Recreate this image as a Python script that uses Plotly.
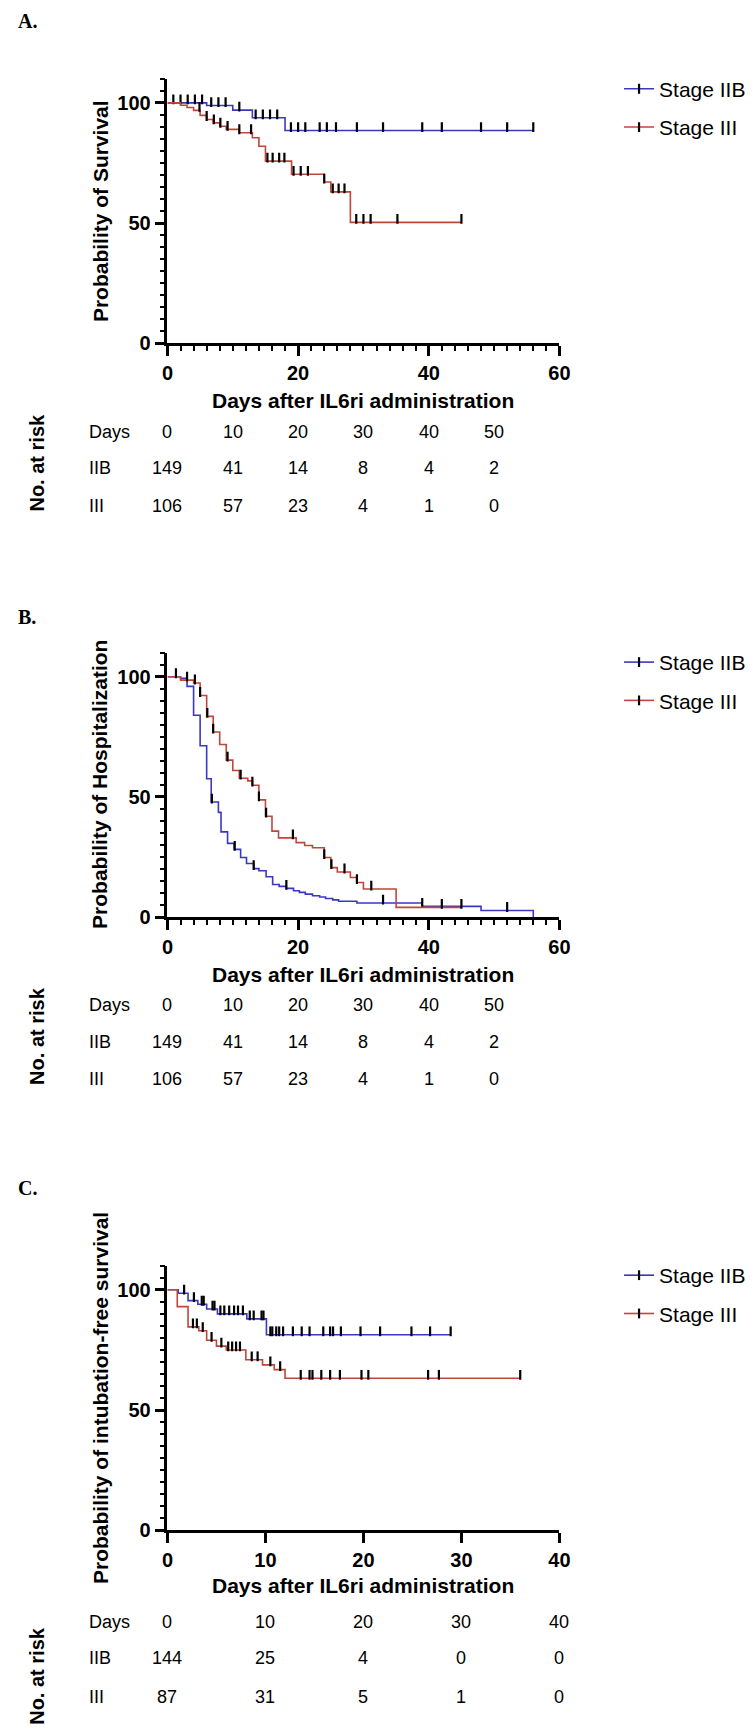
import plotly.graph_objects as go

W, H = 754, 1733

# ---------------- data ----------------
# Panel A: Probability of Survival
A_IIB_event_days = [0, 6, 10, 13, 18]
A_IIB_values = [100, 98.9, 97.0, 93.8, 88.5]
A_IIB_censor_days = [0.9, 2, 3.1, 4.2, 5.3, 6.7, 7.8, 8.9, 11, 13.5, 14.6, 15.7, 16.8,
                     18.9, 20, 21.1, 23.3, 24.4, 25.8, 29, 33, 39, 42, 48, 52, 56]
A_III_event_days = [0, 2, 3, 4, 5, 6, 7, 8, 9, 11, 13, 14, 15, 19, 24, 25, 28]
A_III_values = [100, 99.0, 98.1, 96.9, 94.8, 93.1, 91.7, 90.3, 89.0, 87.6, 85.5, 82.0,
                75.8, 70.3, 67.1, 63.0, 50.3]
A_III_censor_days = [4.9, 6, 7.1, 8.1, 9.2, 11, 12.8, 15.3, 16.1, 17.1, 17.9, 19.3, 20.4,
                     21.5, 24, 25.3, 26.2, 27.1, 28.9, 30, 31.1, 35.2, 45]

# Panel B: Probability of Hospitalization
B_IIB_event_days = [0, 2, 3, 4, 5, 6, 6.7, 7.8, 8.2, 9.2, 10.2, 11.2, 12.1, 13.2, 14, 15.1,
                    16.1, 17.1, 18.2, 19.3, 20.2, 21.1, 22.2, 23.3, 24.2, 25.3, 26.2, 29,
                    39, 48, 56]
B_IIB_values = [100, 99.3, 96, 84, 71.3, 57.6, 47.9, 43.6, 35.5, 30.7, 28.2, 24.8, 22.3,
                20.2, 19.3, 16.8, 13.6, 12.8, 12, 11, 10.3, 9.6, 8.9, 8.4, 7.8, 7.2, 6.6,
                5.9, 4.5, 2.8, 0]
B_IIB_censor_days = [6.8, 10.3, 13.2, 18.2, 33, 39, 52]
B_III_event_days = [0, 2, 4, 5, 6, 7, 8, 9, 10, 11, 12.3, 13, 14, 15, 16, 17, 19.7, 21,
                    22.2, 24, 25, 26, 28, 29, 30, 35]
B_III_values = [100, 98.6, 97.4, 92.2, 83.5, 77, 71.8, 65.3, 61, 57.8, 56.7, 54.9, 48.8,
                42, 35.8, 33, 31, 29.8, 28.9, 24.8, 20.6, 18.8, 16.5, 14.4, 11.7, 4.1]
B_III_censor_days = [1.3, 3, 4.2, 5, 6.1, 7, 9.2, 11.2, 13, 14, 15.1, 19.2, 24, 25.1,
                     27.1, 29, 31.2, 42, 45]

# Panel C: Probability of intubation-free survival
C_IIB_event_days = [0, 1.1, 2.1, 3.1, 4, 5.1, 8.1, 10.1]
C_IIB_values = [100, 98.6, 95.5, 94, 92, 90, 87.9, 81.3]
C_IIB_censor_days = [1.7, 2.7, 3.5, 3.7, 4.6, 4.8, 5.4, 5.8, 6.3, 6.8, 7.2, 7.7, 8.4, 8.8,
                     9.6, 9.8, 10.5, 10.7, 11.1, 11.4, 11.8, 12.8, 13.7, 14.5, 15.9, 16.6,
                     16.9, 17.7, 19.7, 21.7, 24.9, 26.8, 28.9]
C_III_event_days = [0, 1, 2.1, 3.2, 4, 5, 6, 8, 9.7, 10.9, 12]
C_III_values = [100, 93, 84.6, 83, 79, 76.6, 75, 70.9, 68.8, 66.8, 63.2]
C_III_censor_days = [2.6, 3.0, 3.6, 4.5, 5.5, 6.2, 6.6, 7.0, 7.4, 8.6, 9.2, 10.5, 11.5,
                     13.6, 14.5, 14.8, 15.7, 16.6, 17.6, 19.8, 20.5, 26.6, 27.7, 36]

# Numbers at risk
AB_risk_days = [0, 10, 20, 30, 40, 50]
AB_risk_IIB = [149, 41, 14, 8, 4, 2]
AB_risk_III = [106, 57, 23, 4, 1, 0]
C_risk_days = [0, 10, 20, 30, 40]
C_risk_IIB = [144, 25, 4, 0, 0]
C_risk_III = [87, 31, 5, 1, 0]

series_names = ["Stage IIB", "Stage III"]
row_names = ["Days", "IIB", "III"]
panel_letters = ["A.", "B.", "C."]
y_titles = ["Probability of Survival", "Probability of Hospitalization",
            "Probability of intubation-free survival"]
x_title = "Days after IL6ri administration"
risk_title = "No. at risk"

# ---------------- style ----------------
BLUE = "#3a38c2"
RED = "#c0463a"
SANS = "Liberation Sans, Arial, sans-serif"
NARROW = "Liberation Sans Narrow, Arial Narrow, Liberation Sans, Arial, sans-serif"
SERIF = "Liberation Serif, Times New Roman, serif"

# pixel layout per panel
panels = [
    dict(y0=337.5, ytop=71.3, xmax=60, minor=2, legend_top=61, title_y=395,
         label_y=13, risk_rows=[427, 463, 501], risk_center=457),
    dict(y0=915, ytop=648.8, xmax=60, minor=2, legend_top=638, title_y=973,
         label_y=613, risk_rows=[1003, 1041, 1078], risk_center=1034),
    dict(y0=1532, ytop=1265.8, xmax=40, minor=None, legend_top=1255, title_y=1588,
         label_y=1188, risk_rows=[1624, 1661, 1700], risk_center=1678),
]
X0, X1 = 157, 558
YMAX = 110
PX_PER_UNIT = (337.5 - 71.3) / YMAX
TICK_UP = 3.5 / PX_PER_UNIT


def step_xy(days, vals, censors):
    x = list(days)
    y = list(vals)
    end = max(censors + days)
    if end > x[-1]:
        x.append(end)
        y.append(y[-1])
    return x, y


def level_at(t, days, vals):
    v = vals[0]
    for d, l in zip(days, vals):
        if d <= t:
            v = l
    return v


curves = [
    [(A_IIB_event_days, A_IIB_values, A_IIB_censor_days),
     (A_III_event_days, A_III_values, A_III_censor_days)],
    [(B_IIB_event_days, B_IIB_values, B_IIB_censor_days),
     (B_III_event_days, B_III_values, B_III_censor_days)],
    [(C_IIB_event_days, C_IIB_values, C_IIB_censor_days),
     (C_III_event_days, C_III_values, C_III_censor_days)],
]
risks = [(AB_risk_days, AB_risk_IIB, AB_risk_III),
         (AB_risk_days, AB_risk_IIB, AB_risk_III),
         (C_risk_days, C_risk_IIB, C_risk_III)]

fig = go.Figure()
annotations = []
layout_axes = {}

for i, (p, pc) in enumerate(zip(panels, curves)):
    k = "" if i == 0 else str(i + 1)
    xa, ya = "x" + k, "y" + k
    leg = "legend" + k
    for (days, vals, cens), color, name in zip(pc, [BLUE, RED], series_names):
        sx, sy = step_xy(days, vals, cens)
        fig.add_trace(go.Scatter(x=sx, y=sy, mode="lines", line=dict(color=color, width=1.6, shape="hv"),
                                 xaxis=xa, yaxis=ya, showlegend=False, hoverinfo="skip"))
        cy = [level_at(t, days, vals) + TICK_UP for t in cens]
        fig.add_trace(go.Scatter(x=cens, y=cy, mode="markers",
                                 marker=dict(symbol="line-ns", size=7, line=dict(color="black", width=2.2)),
                                 xaxis=xa, yaxis=ya, showlegend=False, hoverinfo="skip"))
        fig.add_trace(go.Scatter(x=[None], y=[None], mode="lines+markers", name=name,
                                 line=dict(color=color, width=1.6),
                                 marker=dict(symbol="line-ns", size=7, line=dict(color="black", width=2.2)),
                                 xaxis=xa, yaxis=ya, legend=leg, legendgroup=name + k))

    xdom = [X0 / W, X1 / W]
    ydom = [1 - p["y0"] / H, 1 - p["ytop"] / H]
    xaxis = dict(domain=xdom, range=[0, p["xmax"]], anchor=ya, showline=True, linecolor="black",
                 linewidth=2.6, ticks="outside", ticklen=10, tickwidth=2.6, tickcolor="black",
                 dtick=20 if p["xmax"] == 60 else 10, tick0=0, showgrid=False, zeroline=False,
                 tickfont=dict(family=SANS, size=20, color="black", weight="bold"))
    if p["minor"]:
        xaxis["minor"] = dict(dtick=p["minor"], ticks="outside", ticklen=5, tickwidth=2, tickcolor="black")
    yaxis = dict(domain=ydom, range=[0, YMAX], anchor=xa, showline=True, linecolor="black",
                 linewidth=2.6, ticks="outside", ticklen=10, tickwidth=2.6, tickcolor="black",
                 tickvals=[0, 50, 100], showgrid=False, zeroline=False,
                 minor=dict(dtick=5, ticks="outside", ticklen=5, tickwidth=2, tickcolor="black"),
                 tickfont=dict(family=SANS, size=20, color="black", weight="bold"))
    layout_axes["xaxis" + k] = xaxis
    layout_axes["yaxis" + k] = yaxis
    layout_axes[leg] = dict(x=619 / W, y=1 - p["legend_top"] / H, xanchor="left", yanchor="top",
                            font=dict(family=SANS, size=21, color="black"), bgcolor="rgba(0,0,0,0)",
                            tracegroupgap=8, itemwidth=30)

    annotations.append(dict(text=panel_letters[i], x=2 / W, y=1 - p["label_y"] / H, xref="paper", yref="paper",
                            xanchor="left", yanchor="middle", showarrow=False,
                            font=dict(family=SERIF, size=20, color="black", weight="bold")))
    annotations.append(dict(text=y_titles[i], x=88 / W, y=1 - (p["y0"] + p["ytop"]) / 2 / H,
                            xref="paper", yref="paper", textangle=-90, showarrow=False,
                            xanchor="center", yanchor="middle",
                            font=dict(family=SANS, size=21, color="black", weight="bold")))
    annotations.append(dict(text=x_title, x=(X0 + X1) / 2 / W, y=1 - p["title_y"] / H, xref="paper", yref="paper",
                            showarrow=False, xanchor="center", yanchor="middle",
                            font=dict(family=SANS, size=21, color="black", weight="bold")))
    annotations.append(dict(text=risk_title, x=24 / W, y=1 - p["risk_center"] / H, xref="paper", yref="paper",
                            textangle=-90, showarrow=False, xanchor="center", yanchor="middle",
                            font=dict(family=SANS, size=20, color="black", weight="bold")))
    rd, r1, r2 = risks[i]
    for name, ry, vals in zip(row_names, p["risk_rows"], [rd, r1, r2]):
        annotations.append(dict(text=name, x=75 / W, y=1 - ry / H, xref="paper", yref="paper",
                                showarrow=False, xanchor="left", yanchor="middle",
                                font=dict(family=NARROW, size=18, color="black")))
        for d, v in zip(rd, vals):
            annotations.append(dict(text=str(v), x=d, y=1 - ry / H, xref=xa, yref="paper",
                                    showarrow=False, xanchor="center", yanchor="middle",
                                    font=dict(family=NARROW, size=18, color="black")))

fig.update_layout(width=W, height=H, margin=dict(l=0, r=0, t=0, b=0),
                  paper_bgcolor="white", plot_bgcolor="white",
                  annotations=annotations, **layout_axes)
fig.write_html("out.html")
